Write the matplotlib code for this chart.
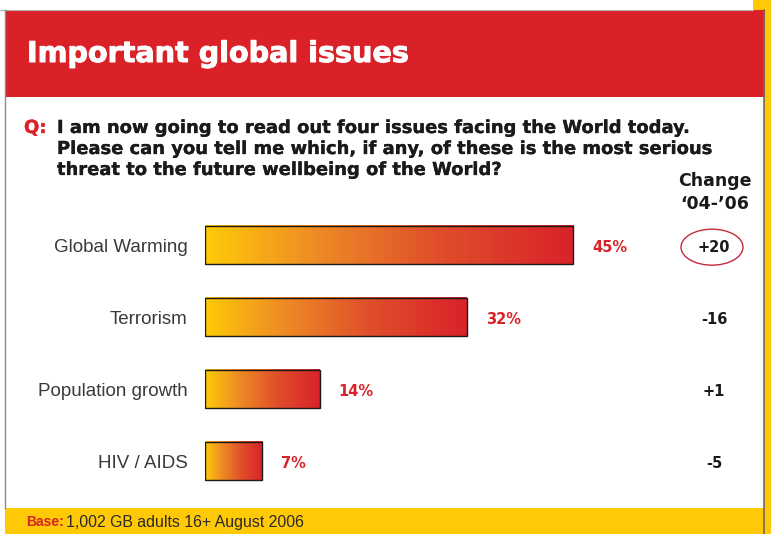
import matplotlib.pyplot as plt
import matplotlib.patheffects as pe
import numpy as np
from matplotlib.colors import LinearSegmentedColormap
from matplotlib.patches import Rectangle, Ellipse

plt.rcParams['font.family'] = ['Liberation Sans', 'DejaVu Sans']

categories = ['Global Warming', 'Terrorism', 'Population growth', 'HIV / AIDS']
shares = [45, 32, 14, 7]
changes = ['+20', '-16', '+1', '-5']

title = 'Important global issues'
question = ['I am now going to read out four issues facing the World today.',
            'Please can you tell me which, if any, of these is the most serious',
            'threat to the future wellbeing of the World?']
base_note = '1,002 GB adults 16+ August 2006'

RED = '#DA2128'
YELLOW = '#FFC906'
INK = '#1A1A1A'
HEAVY = ['DejaVu Sans']
W, H = 771, 534


def fatten(color, lw):
    return [pe.withStroke(linewidth=lw, foreground=color)]


fig = plt.figure(figsize=(W / 100, H / 100), dpi=100)

# panel decorations, drawn in pixel coordinates
bg = fig.add_axes([0, 0, 1, 1])
bg.set_xlim(0, W)
bg.set_ylim(H, 0)
bg.axis('off')
bg.add_patch(Rectangle((753, 0), 18, 10, color=YELLOW, lw=0))
bg.add_patch(Rectangle((764, 0), 7, H, color=YELLOW, lw=0))
bg.add_patch(Rectangle((5, 10), 760, 87, color=RED, lw=0))
bg.add_patch(Rectangle((5, 508), 760, 26, color=YELLOW, lw=0))
bg.plot([0, 753], [9.5, 9.5], color='#B0B0B0', lw=0.8)
bg.plot([5, 5], [10, 508], color='#8A8A8A', lw=1.0)
bg.plot([763.5, 763.5], [10, 534], color='#6E6A5E', lw=1.2)

bg.text(27, 62, title, color='white', fontsize=20.6, fontweight='bold',
        family=HEAVY, va='baseline', path_effects=fatten('white', 0.7))
bg.text(24, 133, 'Q:', color=RED, fontsize=13, fontweight='bold',
        family=HEAVY, va='baseline', path_effects=fatten(RED, 0.25))
for i, line in enumerate(question):
    bg.text(57, 133 + 21 * i, line, color=INK, fontsize=12.9,
            fontweight='bold', family=HEAVY, va='baseline',
            path_effects=fatten(INK, 0.2))
bg.text(715, 186, 'Change', color=INK, fontsize=12.5, fontweight='bold',
        family=HEAVY, ha='center', va='baseline')
bg.text(715, 209, '\u201804-\u201906', color=INK, fontsize=12.5,
        fontweight='bold', family=HEAVY, ha='center', va='baseline')
bg.text(26, 522, 'Base:', color=RED, fontsize=10, fontweight='bold',
        va='center')
bg.text(66, 522, base_note, color='#2A2A2A', fontsize=11.4, va='center')

# bar chart area: 0% sits at x=205 px, 8.18 px per percentage point
px_per_pct = 8.18
left, width = 205, 500
top, height = 209, 288
ax = fig.add_axes([left / W, 1 - (top + height) / H, width / W, height / H])
ax.set_facecolor('none')
ax.set_xlim(0, width / px_per_pct)
ax.set_ylim(len(categories) - 0.5, -0.5)

cmap = LinearSegmentedColormap.from_list(
    'warm', [(0, '#FFCB08'), (0.3, '#EE8B25'), (0.62, '#E0502B'), (1, '#D9222A')])
grad = np.linspace(0, 1, 256)[None, :]
bar_h = 0.54
for i, (val, chg) in enumerate(zip(shares, changes)):
    ax.imshow(grad, cmap=cmap, aspect='auto', interpolation='bilinear',
              extent=(0, val, i + bar_h / 2, i - bar_h / 2), zorder=2)
    ax.add_patch(Rectangle((0, i - bar_h / 2), val, bar_h, fill=False,
                           edgecolor=INK, lw=1.0, zorder=3))
    ax.text(val + 2.3, i + 0.04, f'{val}%', color=RED, fontsize=10.5,
            fontweight='bold', family=HEAVY, va='center')
    ax.text(509 / px_per_pct, i + 0.04, chg, color=INK, fontsize=10.5,
            fontweight='bold', family=HEAVY, ha='center', va='center')
ax.add_patch(Ellipse((507 / px_per_pct, 0.03), 62 / px_per_pct, 36 / 72,
                     fill=False, edgecolor='#C42A3C', lw=1.0, clip_on=False))

ax.set_yticks(range(len(categories)))
ax.set_yticklabels(categories, fontsize=13.5, color='#3A3A3A')
ax.tick_params(axis='y', length=0, pad=12.5)
ax.set_xticks([])
for s in ax.spines.values():
    s.set_visible(False)

fig.savefig('out.png', dpi=100)
